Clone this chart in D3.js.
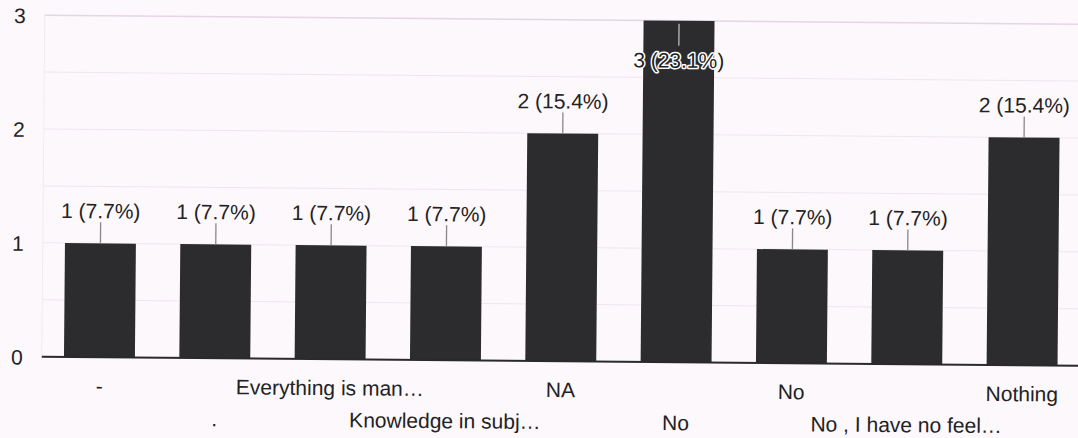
<!DOCTYPE html>
<html>
<head>
<meta charset="utf-8">
<script src="https://cdn.jsdelivr.net/npm/d3@7"></script>
<style>
  html, body { margin: 0; padding: 0; background: #fcf8fc; }
  svg { display: block; }
  text { font-family: "Liberation Sans", Arial, sans-serif; fill: #222; }
</style>
</head>
<body>
<svg id="chart" width="1078" height="438"></svg>
<script>
// Responses per answer
const categories = ["-", ".", "Everything is man…", "Knowledge in subj…", "NA", "No", "No", "No , I have no feel…", "Nothing"];
const counts = [1, 1, 1, 1, 2, 3, 1, 1, 2];
const yTicks = [0, 1, 2, 3];
const gridSteps = [0.5, 1, 1.5, 2, 2.5, 3];

const total = d3.sum(counts);
const W = 1078, H = 438;
const plot = { left: 43, right: 1081, top: 19.5, bottom: 361 };
const FONT = 21;

const svg = d3.select("#chart");
svg.append("rect").attr("width", W).attr("height", H).attr("fill", "#fcf8fc");

// the printed sheet sits slightly askew
const g = svg.append("g").attr("transform", `rotate(0.5, ${W / 2}, ${H / 2})`);

const x = d3.scaleBand()
  .domain(d3.range(categories.length))
  .range([plot.left, plot.right])
  .paddingInner(0.385)
  .paddingOuter(0.1925);

const y = d3.scaleLinear().domain([0, 3]).range([plot.bottom, plot.top]);

// gridlines
g.append("g").selectAll("line").data(gridSteps).join("line")
  .attr("x1", plot.left).attr("x2", plot.right)
  .attr("y1", d => y(d)).attr("y2", d => y(d))
  .attr("stroke", d => d === 3 ? "#e4d6e6" : "#efe6f0")
  .attr("stroke-width", d => d === 3 ? 1.5 : 1);

g.append("line")
  .attr("x1", plot.left).attr("x2", plot.left)
  .attr("y1", plot.top).attr("y2", plot.bottom)
  .attr("stroke", "#f1eaf2").attr("stroke-width", 1);

// y axis labels
const yAxis = g.append("g").attr("transform", "translate(24,0)")
  .call(d3.axisLeft(y).tickValues(yTicks).tickFormat(d3.format("d")).tickSize(0).tickPadding(0));
yAxis.select(".domain").remove();
yAxis.selectAll("text")
  .attr("font-size", FONT)
  .attr("font-family", "Liberation Sans, Arial, sans-serif")
  .attr("fill", "#222")
  .attr("dy", "0.36em");

// bars
g.append("g").selectAll("rect").data(counts).join("rect")
  .attr("x", (d, i) => x(i))
  .attr("width", x.bandwidth())
  .attr("y", d => y(d))
  .attr("height", d => y(0) - y(d))
  .attr("fill", "#2c2b2d");

// baseline
g.append("line")
  .attr("x1", plot.left).attr("x2", plot.right)
  .attr("y1", y(0)).attr("y2", y(0))
  .attr("stroke", "#2a2a2a").attr("stroke-width", 2);

// x axis labels, staggered over two rows
const xAxis = g.append("g").attr("transform", `translate(0,${y(0)})`)
  .call(d3.axisBottom(x).tickFormat(i => categories[i]).tickSize(0).tickPadding(0));
xAxis.select(".domain").remove();
xAxis.selectAll("text")
  .attr("font-size", FONT)
  .attr("font-family", "Liberation Sans, Arial, sans-serif")
  .attr("fill", "#222")
  .attr("dy", null)
  .attr("y", (i) => (i % 2 === 0 ? 36 : 68));

// value annotations with stems
const fmtPct = d3.format(".1f");
const ann = g.append("g").selectAll("g").data(counts).join("g")
  .attr("transform", (d, i) => `translate(${x(i) + x.bandwidth() / 2},${y(d)})`);

const inside = d => y(d) - plot.top < 30;

ann.append("line")
  .attr("x1", 0).attr("x2", 0)
  .attr("y1", d => inside(d) ? 3 : -21)
  .attr("y2", d => inside(d) ? 25 : 0)
  .attr("stroke", d => inside(d) ? "#bbb" : "#888")
  .attr("stroke-width", 1.3);

ann.append("text")
  .attr("text-anchor", "middle")
  .attr("font-size", FONT)
  .attr("y", d => inside(d) ? 47 : -25)
  .attr("stroke", d => inside(d) ? "#fff" : "none")
  .attr("stroke-width", 3)
  .attr("paint-order", "stroke")
  .attr("stroke-linejoin", "round")
  .text(d => `${d} (${fmtPct(d / total * 100)}%)`);
</script>
</body>
</html>
